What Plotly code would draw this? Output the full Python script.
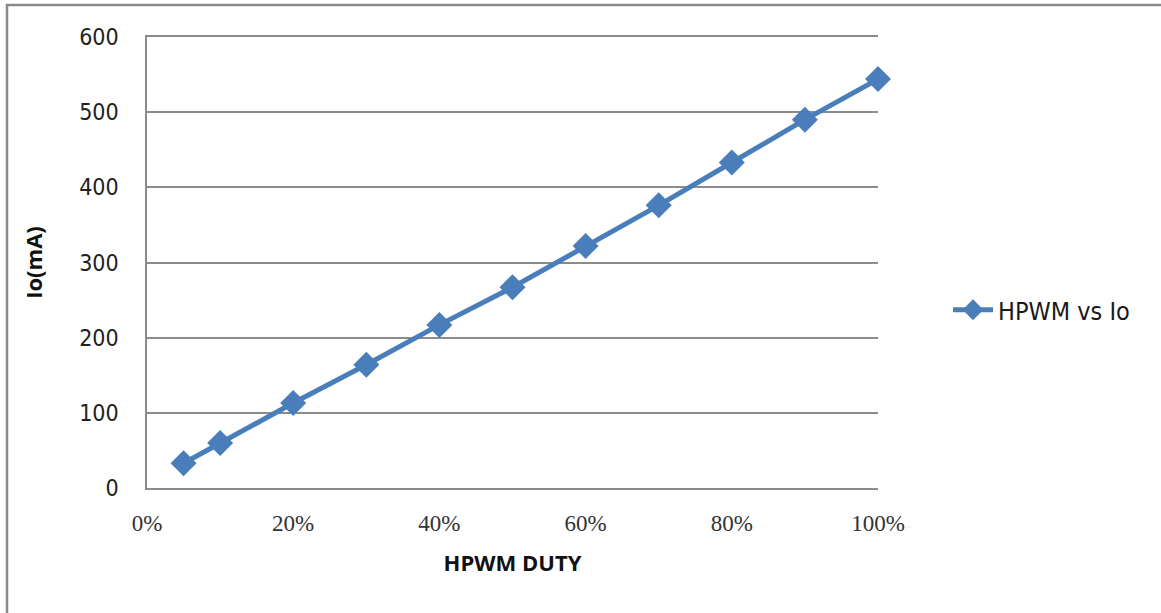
import plotly.graph_objects as go

duty = [0.05, 0.10, 0.20, 0.30, 0.40, 0.50, 0.60, 0.70, 0.80, 0.90, 1.00]
io_ma = [33, 60, 113, 164, 217, 267, 322, 376, 433, 490, 544]
series_name = "HPWM vs Io"
x_title = "HPWM DUTY"
y_title = "Io(mA)"

blue = "#4a7ebb"
grid = "#8c8c8c"

fig = go.Figure()
fig.add_trace(go.Scatter(
    x=duty, y=io_ma, name=series_name, mode="lines+markers",
    line=dict(color=blue, width=5),
    marker=dict(symbol="diamond", size=20, color=blue),
    cliponaxis=False,
))

W, H = 1161, 613
L, R, T, B = 147, 283, 37, 125
pw, ph = W - L - R, H - T - B

fig.update_layout(
    width=W, height=H,
    margin=dict(l=L, r=R, t=T, b=B),
    paper_bgcolor="white", plot_bgcolor="white",
    showlegend=True,
    legend=dict(x=(948 - L) / pw, y=(H - B - 310) / ph, xanchor="left", yanchor="middle",
                font=dict(family="DejaVu Sans Condensed", size=25, color="#1a1a1a"),
                bgcolor="rgba(0,0,0,0)", itemwidth=40),
    shapes=[dict(type="rect", xref="paper", yref="paper",
                 x0=(7 - L) / pw, x1=(1175 - L) / pw,
                 y0=-(630 - T - ph) / ph, y1=1 + (T - 5) / ph,
                 line=dict(color="#8a8a8a", width=2.5), fillcolor="rgba(0,0,0,0)", layer="below")],
)
fig.update_xaxes(
    range=[0, 1], tickvals=[0, 0.2, 0.4, 0.6, 0.8, 1.0], tickformat=".0%",
    showgrid=False, showline=True, mirror=True, linecolor=grid, linewidth=1.5, zeroline=False,
    ticks="outside", ticklen=14, tickcolor="rgba(255,255,255,0)",
    tickfont=dict(family="Liberation Serif", size=23, color="#333333"),
    title=dict(text="<b>" + x_title + "</b>", font=dict(family="Open Sans", size=22, color="#111111"), standoff=20),
)
fig.update_yaxes(
    range=[0, 600], tickvals=[0, 100, 200, 300, 400, 500, 600],
    showgrid=True, gridcolor=grid, gridwidth=1.5, showline=True, linecolor=grid, linewidth=1.5,
    zeroline=False, ticks="outside", ticklen=22, tickcolor="rgba(255,255,255,0)",
    tickfont=dict(family="DejaVu Sans Condensed", size=23, color="#222222"),
    title=dict(text="<b>" + y_title + "</b>", font=dict(family="Open Sans", size=22, color="#111111"), standoff=30),
)

fig.write_html("out.html", config={"displayModeBar": False},
               post_script="document.body.style.margin='0';document.body.style.padding='0';")
